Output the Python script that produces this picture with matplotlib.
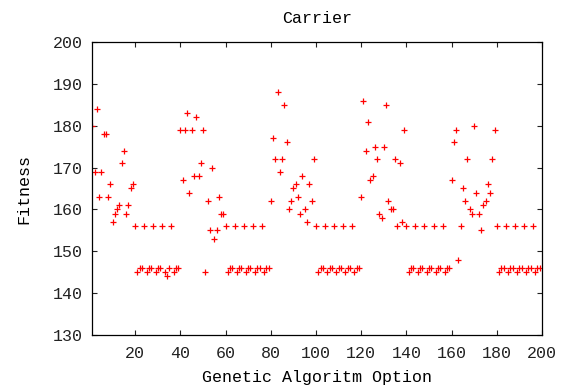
import matplotlib
matplotlib.use("Agg")
import matplotlib.pyplot as plt

# fitness per genetic algorithm option, 20 options per list
fit_001_020 = [180, 169, 184, 163, 169, 178, 178, 163, 166, 157, 159, 160, 161, 171, 174, 159, 161, 165, 166, 156]
fit_021_040 = [145, 146, 146, 156, 145, 146, 146, 156, 145, 146, 146, 156, 145, 144, 146, 156, 145, 146, 146, 179]
fit_041_060 = [167, 179, 183, 164, 179, 168, 182, 168, 171, 179, 145, 162, 155, 170, 153, 155, 163, 159, 159, 156]
fit_061_080 = [145, 146, 146, 156, 145, 146, 146, 156, 145, 146, 146, 156, 145, 146, 146, 156, 145, 146, 146, 162]
fit_081_100 = [177, 172, 188, 169, 172, 185, 176, 160, 162, 165, 166, 163, 159, 168, 160, 157, 166, 162, 172, 156]
fit_101_120 = [145, 146, 146, 156, 145, 146, 146, 156, 145, 146, 146, 156, 145, 146, 146, 156, 145, 146, 146, 163]
fit_121_140 = [186, 174, 181, 167, 168, 175, 172, 159, 158, 175, 185, 162, 160, 160, 172, 156, 171, 157, 179, 156]
fit_141_160 = [145, 146, 146, 156, 145, 146, 146, 156, 145, 146, 146, 156, 145, 146, 146, 156, 145, 146, 146, 167]
fit_161_180 = [176, 179, 148, 156, 165, 162, 172, 160, 159, 180, 164, 159, 155, 161, 162, 166, 164, 172, 179, 156]
fit_181_199 = [145, 146, 146, 156, 145, 146, 146, 156, 145, 146, 146, 156, 145, 146, 146, 156, 145, 146, 146]

fitness = (fit_001_020 + fit_021_040 + fit_041_060 + fit_061_080 + fit_081_100
           + fit_101_120 + fit_121_140 + fit_141_160 + fit_161_180 + fit_181_199)
option = list(range(1, len(fitness) + 1))

x_ticks = [20, 40, 60, 80, 100, 120, 140, 160, 180, 200]
y_ticks = [130, 140, 150, 160, 170, 180, 190, 200]

plt.rcParams["font.family"] = ["Liberation Mono", "DejaVu Sans Mono"]
plt.rcParams["font.size"] = 12

fig = plt.figure(figsize=(5.7, 3.92), dpi=100)
ax = fig.add_axes([92.3 / 570, 1 - 335 / 392, 449.7 / 570, 293 / 392])

ax.plot(option, fitness, "+", color="#ff0000", markersize=4.2, markeredgewidth=0.9)

ax.set_xlim(1, 200)
ax.set_ylim(130, 200)
ax.set_xticks(x_ticks)
ax.set_yticks(y_ticks)
ax.tick_params(direction="in", length=3.8, width=0.8, top=True, right=True,
               labelsize=12, colors="#222222")
ax.tick_params(axis="x", pad=8)
ax.tick_params(axis="y", pad=7)
for s in ax.spines.values():
    s.set_linewidth(0.9)

ax.set_title("Carrier", fontsize=12, pad=14)
ax.set_xlabel("Genetic Algoritm Option", fontsize=12)
ax.set_ylabel("Fitness", fontsize=12)
ax.xaxis.set_label_coords(0.5, -0.12)
ax.yaxis.set_label_coords(-0.135, 0.5)

fig.savefig("out.png", dpi=100)
